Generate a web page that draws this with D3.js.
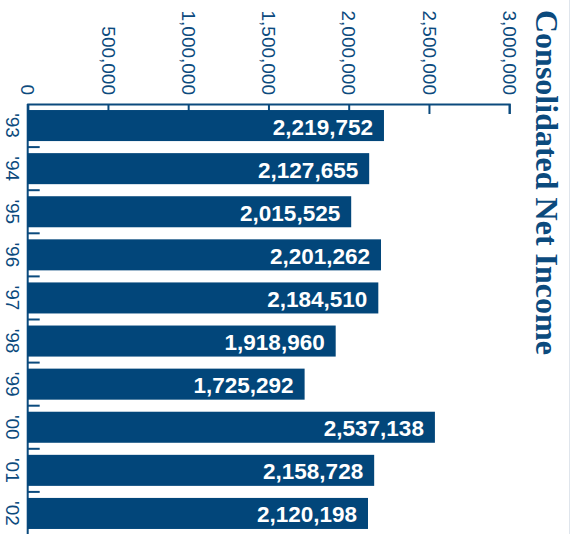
<!DOCTYPE html>
<html>
<head>
<meta charset="utf-8">
<script src="https://cdn.jsdelivr.net/npm/d3@7"></script>
<style>
  body { margin: 0; background: #fff; }
  svg { display: block; }
</style>
</head>
<body>
<div id="chart"></div>
<script>
// data
const years = ["'93", "'94", "'95", "'96", "'97", "'98", "'99", "'00", "'01", "'02"];
const netIncome = [2219752, 2127655, 2015525, 2201262, 2184510, 1918960, 1725292, 2537138, 2158728, 2120198];
const valueTicks = [0, 500000, 1000000, 1500000, 2000000, 2500000, 3000000];
const title = "Consolidated Net Income";

const svgWidth = 571;
const svgHeight = 534;

const barColor = "#02467a";
const inkColor = "#0b4a7d";

const svg = d3.select("#chart")
  .append("svg")
  .attr("width", svgWidth)
  .attr("height", svgHeight);

// value scale runs left to right, years run top to bottom
const x = d3.scaleLinear()
  .domain([0, 3000000])
  .range([27.7, 509.2]);

const y = d3.scaleBand()
  .domain(years)
  .range([104, 535])
  .paddingInner(0.28)
  .paddingOuter(0.14);

// faint frame line on the right edge
svg.append("line")
  .attr("x1", 569.5).attr("x2", 569.5)
  .attr("y1", 0).attr("y2", svgHeight)
  .attr("stroke", "#dfe5ec")
  .attr("stroke-width", 1);

// top value axis, ticks pointing down, labels turned a quarter
const xAxis = svg.append("g")
  .attr("transform", "translate(0,104)")
  .call(d3.axisTop(x)
    .tickValues(valueTicks)
    .tickSizeInner(-10)
    .tickSizeOuter(-10)
    .tickFormat(d3.format(",")));

xAxis.select(".domain")
  .attr("stroke", inkColor)
  .attr("stroke-width", 2);
xAxis.selectAll(".tick line")
  .attr("stroke", inkColor)
  .attr("stroke-width", 2);
xAxis.selectAll(".tick text")
  .attr("x", 0)
  .attr("y", 0)
  .attr("dy", "0.36em")
  .attr("transform", "translate(0,-9) rotate(90)")
  .attr("text-anchor", "end")
  .attr("fill", inkColor)
  .style("font-family", "'Liberation Sans', Arial, sans-serif")
  .style("font-size", "19px");

// left year axis
const yAxis = svg.append("g");

yAxis.append("line")
  .attr("x1", x(0)).attr("x2", x(0))
  .attr("y1", 104).attr("y2", svgHeight)
  .attr("stroke", inkColor)
  .attr("stroke-width", 2);

yAxis.selectAll(".ytick")
  .data(years)
  .enter()
  .append("line")
  .attr("class", "ytick")
  .attr("x1", x(0))
  .attr("x2", x(0) + 12)
  .attr("y1", d => y(d) + y.bandwidth() + y.step() * y.paddingInner() / 2)
  .attr("y2", d => y(d) + y.bandwidth() + y.step() * y.paddingInner() / 2)
  .attr("stroke", inkColor)
  .attr("stroke-width", 2);

yAxis.selectAll(".ylabel")
  .data(years)
  .enter()
  .append("text")
  .attr("class", "ylabel")
  .attr("transform", d => `translate(5.5,${y(d) + y.bandwidth() / 2}) rotate(90)`)
  .attr("text-anchor", "middle")
  .attr("fill", inkColor)
  .style("font-family", "'Liberation Sans', Arial, sans-serif")
  .style("font-size", "19px")
  .text(d => d);

// bars
const rows = years.map((yr, i) => ({ year: yr, value: netIncome[i] }));

svg.selectAll(".bar")
  .data(rows)
  .enter()
  .append("rect")
  .attr("class", "bar")
  .attr("x", x(0))
  .attr("y", d => y(d.year))
  .attr("width", d => x(d.value) - x(0))
  .attr("height", y.bandwidth())
  .attr("fill", barColor);

// value labels inside the bar ends
svg.selectAll(".value")
  .data(rows)
  .enter()
  .append("text")
  .attr("class", "value")
  .attr("x", d => x(d.value) - 11)
  .attr("y", d => y(d.year) + y.bandwidth() / 2)
  .attr("dy", "0.4em")
  .attr("text-anchor", "end")
  .attr("fill", "#fff")
  .style("font-family", "'Liberation Sans', Arial, sans-serif")
  .style("font-weight", "bold")
  .style("font-size", "22.5px")
  .text(d => d3.format(",")(d.value));

// title down the right side
svg.append("text")
  .attr("transform", "translate(536,10) rotate(90)")
  .attr("text-anchor", "start")
  .attr("fill", inkColor)
  .style("font-family", "'Liberation Serif', 'Times New Roman', serif")
  .style("font-weight", "bold")
  .style("font-size", "32px")
  .text(title);
</script>
</body>
</html>
